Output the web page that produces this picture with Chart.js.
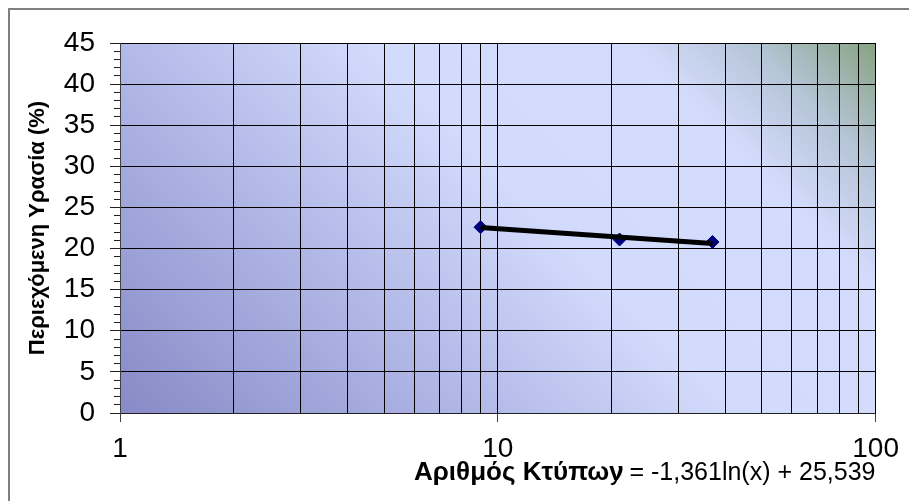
<!DOCTYPE html>
<html>
<head>
<meta charset="utf-8">
<script src="https://cdn.jsdelivr.net/npm/chart.js@4/dist/chart.umd.min.js"></script>
<style>
  html, body { margin: 0; padding: 0; background: #ffffff; }
  #wrap { width: 909px; height: 501px; }
</style>
</head>
<body>
<div id="wrap"><canvas id="chart" width="909" height="501"></canvas></div>
<script>
// Measured blow counts and water content
const blowCounts = [9, 21, 37];
const waterContent = [22.6, 21.1, 20.8];

// Logarithmic trend y = a·ln(x) + b
const trendSlope = -1.361;
const trendIntercept = 25.539;

// Axis ticks
const yMin = 0, yMax = 45, yStep = 5, yMinorStep = 1;
const xGridValues = [1, 2, 3, 4, 5, 6, 7, 8, 9, 10, 20, 30, 40, 50, 60, 70, 80, 90, 100];
const xLabelValues = [1, 10, 100];

const xTitle = 'Αριθμός Κτύπων';
const yTitle = 'Περιεχόμενη Υρασία (%)';

const FONT = "'Liberation Sans', Arial, sans-serif";

const fmtComma = v => String(v).replace('.', ',');
const equationText = 'y = ' + fmtComma(trendSlope) + 'ln(x) + ' + fmtComma(trendIntercept);

const xFrom = Math.min(...blowCounts), xTo = Math.max(...blowCounts);
const trendPoints = [xFrom, xTo].map(x => ({ x, y: trendSlope * Math.log(x) + trendIntercept }));
const measuredPoints = blowCounts.map((x, i) => ({ x, y: waterContent[i] }));

const plotDecor = {
  id: 'plotDecor',
  beforeDraw(chart) {
    const { ctx, chartArea: a, width, height } = chart;
    ctx.save();
    ctx.fillStyle = '#ffffff';
    ctx.fillRect(0, 0, width, height);
    const w = a.right - a.left, h = a.bottom - a.top;
    const d = (w + h) / 2;
    const g = ctx.createLinearGradient(a.left, a.bottom, a.left + d, a.bottom - d);
    g.addColorStop(0.00, '#878ac6');
    g.addColorStop(0.33, '#b3bae8');
    g.addColorStop(0.55, '#d3dbfc');
    g.addColorStop(0.78, '#d4dcfd');
    g.addColorStop(0.89, '#b5c4d6');
    g.addColorStop(1.00, '#87a281');
    ctx.fillStyle = g;
    ctx.fillRect(a.left, a.top, w, h);
    // outer frame
    ctx.strokeStyle = '#808080';
    ctx.lineWidth = 2;
    ctx.beginPath();
    ctx.moveTo(9, height + 10);
    ctx.lineTo(9, 9);
    ctx.lineTo(width + 10, 9);
    ctx.stroke();
    ctx.restore();
  },
  afterDraw(chart) {
    const { ctx } = chart;
    ctx.save();
    ctx.fillStyle = '#000000';
    ctx.textAlign = 'left';
    ctx.textBaseline = 'middle';
    // x-axis title
    ctx.font = 'bold 26px ' + FONT;
    ctx.fillText(xTitle, 414, 473);
    // trend equation
    ctx.font = '25px ' + FONT;
    ctx.fillText(equationText, 610, 473);
    ctx.restore();
  }
};

new Chart(document.getElementById('chart'), {
  type: 'scatter',
  data: {
    datasets: [
      {
        label: 'trend',
        type: 'line',
        data: trendPoints,
        borderColor: '#000000',
        borderWidth: 5,
        pointRadius: 0,
        fill: false,
        order: 0
      },
      {
        label: 'measured',
        data: measuredPoints,
        pointStyle: 'rectRot',
        pointRadius: 6.5,
        backgroundColor: '#000080',
        borderColor: '#000080',
        borderWidth: 1,
        showLine: false,
        order: 1
      }
    ]
  },
  options: {
    responsive: false,
    animation: false,
    devicePixelRatio: 1,
    layout: { autoPadding: false, padding: { top: 43, right: 29, left: 0, bottom: 0 } },
    plugins: { legend: { display: false }, tooltip: { enabled: false } },
    scales: {
      x: {
        type: 'logarithmic',
        position: 'bottom',
        min: 1,
        max: 100,
        afterBuildTicks: s => { s.ticks = xGridValues.map(v => ({ value: v })); },
        afterFit: s => { s.height = 88; },
        grid: {
          color: '#000000',
          lineWidth: 1,
          tickLength: 9,
          tickColor: c => (c.tick && xLabelValues.includes(c.tick.value)) ? '#404040' : 'rgba(0,0,0,0)'
        },
        border: { color: '#202020', width: 1 },
        ticks: {
          autoSkip: false,
          maxRotation: 0,
          minRotation: 0,
          padding: 10,
          color: '#000000',
          font: { family: FONT, size: 28 },
          callback: v => xLabelValues.includes(v) ? String(v) : ''
        }
      },
      y: {
        position: 'left',
        weight: 1,
        min: yMin,
        max: yMax,
        afterFit: s => { s.width = 120; },
        grid: { color: '#000000', lineWidth: 1, tickLength: 10, tickColor: '#202020' },
        border: { color: '#404040', width: 1 },
        ticks: {
          stepSize: yStep,
          padding: 15,
          color: '#000000',
          font: { family: FONT, size: 28 }
        },
        title: {
          display: true,
          text: yTitle,
          color: '#000000',
          font: { family: FONT, size: 22, weight: 'bold', lineHeight: 1 },
          padding: { top: 27, bottom: 0 }
        }
      },
      yMinor: {
        position: 'left',
        weight: 0,
        min: yMin,
        max: yMax,
        afterFit: s => { s.width = 0; },
        grid: { drawOnChartArea: false, tickLength: 6, tickColor: '#202020' },
        border: { display: false },
        ticks: { stepSize: yMinorStep, display: false }
      }
    }
  },
  plugins: [plotDecor]
});
</script>
</body>
</html>
